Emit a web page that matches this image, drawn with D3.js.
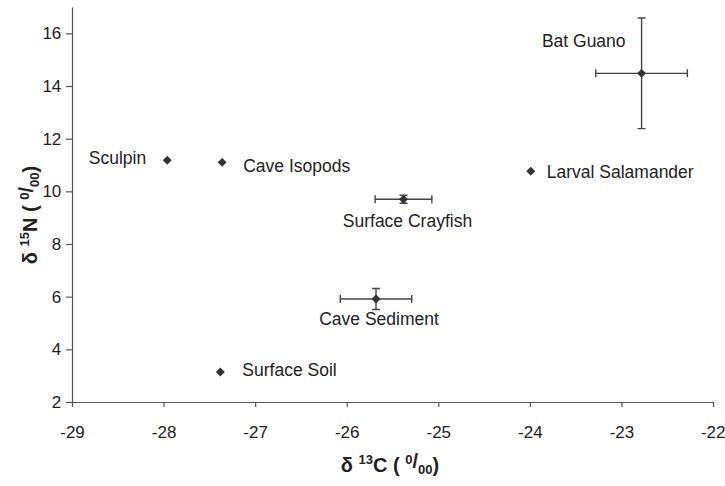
<!DOCTYPE html>
<html>
<head>
<meta charset="utf-8">
<script src="https://cdn.jsdelivr.net/npm/d3@7"></script>
<style>
  body { margin: 0; background: #fff; }
  svg text { font-family: "Liberation Sans", Arial, sans-serif; fill: #222; }
</style>
</head>
<body>
<div id="chart"></div>
<script>
  // sample names and isotope means / errors
  var names   = ['Bat Guano', 'Larval Salamander', 'Sculpin', 'Cave Isopods', 'Surface Crayfish', 'Cave Sediment', 'Surface Soil']
  var carbon  = [-22.78, -23.99, -27.96, -27.36, -25.38, -25.68, -27.38]
  var nitro   = [14.48, 10.76, 11.18, 11.10, 9.70, 5.91, 3.14]
  var carbonErr = [0.5, 0, 0, 0, 0.31, 0.39, 0]
  var nitroErr  = [2.1, 0, 0, 0, 0.15, 0.4, 0]
  var xTicks = [-29, -28, -27, -26, -25, -24, -23, -22]
  var yTicks = [2, 4, 6, 8, 10, 12, 14, 16]

  // where each label sits relative to its point
  var labelPos = [
    {dx: -16, dy: -32, anchor: 'end'},
    {dx: 16, dy: 1, anchor: 'start'},
    {dx: -21, dy: -2, anchor: 'end'},
    {dx: 21, dy: 4, anchor: 'start'},
    {dx: 4, dy: 22, anchor: 'middle'},
    {dx: 3, dy: 20, anchor: 'middle'},
    {dx: 22, dy: -2, anchor: 'start'}
  ]

  var width = 725, height = 486
  var margin = {top: 7, right: 12, bottom: 84, left: 72}

  var svg = d3.select('#chart').append('svg')
              .attr('width', width)
              .attr('height', height)

  var x = d3.scaleLinear().domain([-29, -22]).range([margin.left, width - margin.right])
  var y = d3.scaleLinear().domain([2, 17]).range([height - margin.bottom, margin.top])

  var fmt = function(d) { return String(d) }

  var xAxis = svg.append('g')
     .attr('transform', 'translate(0,' + y(2) + ')')
     .call(d3.axisBottom(x).tickValues(xTicks).tickSize(5).tickSizeOuter(0).tickFormat(fmt))
  var yAxis = svg.append('g')
     .attr('transform', 'translate(' + x(-29) + ',0)')
     .call(d3.axisLeft(y).tickValues(yTicks).tickSize(6).tickSizeOuter(0).tickFormat(fmt))

  svg.selectAll('.domain, .tick line').attr('stroke', '#555').attr('stroke-width', 1.2)
  xAxis.selectAll('text').attr('font-size', 17).attr('y', 24)
  xAxis.selectAll('.tick').filter(function(d) { return d === -22 })
       .select('text').attr('text-anchor', 'end').attr('x', 12)
  yAxis.selectAll('text').attr('font-size', 17).attr('dx', '-0.1em')
  svg.selectAll('.tick text').style('fill', '#222')

  var data = names.map(function(n, i) {
    return {name: n, cx: carbon[i], ny: nitro[i], ex: carbonErr[i], ey: nitroErr[i], lp: labelPos[i]}
  })

  var g = svg.append('g')
  var cap = 4

  var withErr = data.filter(function(d) { return d.ex > 0 || d.ey > 0 })

  // horizontal error bars
  g.selectAll('.hbar').data(withErr).enter().append('path')
   .attr('d', function(d) {
     var x0 = x(d.cx - d.ex), x1 = x(d.cx + d.ex), yy = y(d.ny)
     return 'M' + x0 + ',' + yy + 'H' + x1 +
            'M' + x0 + ',' + (yy - cap) + 'V' + (yy + cap) +
            'M' + x1 + ',' + (yy - cap) + 'V' + (yy + cap)
   })
   .attr('stroke', '#444').attr('stroke-width', 1.4).attr('fill', 'none')

  // vertical error bars
  g.selectAll('.vbar').data(withErr).enter().append('path')
   .attr('d', function(d) {
     var y0 = y(d.ny - d.ey), y1 = y(d.ny + d.ey), xx = x(d.cx)
     return 'M' + xx + ',' + y0 + 'V' + y1 +
            'M' + (xx - cap) + ',' + y0 + 'H' + (xx + cap) +
            'M' + (xx - cap) + ',' + y1 + 'H' + (xx + cap)
   })
   .attr('stroke', '#444').attr('stroke-width', 1.4).attr('fill', 'none')

  var diamond = d3.symbol().type(d3.symbolSquare).size(40)
  g.selectAll('.pt').data(data).enter().append('path')
   .attr('d', diamond)
   .attr('transform', function(d) { return 'translate(' + x(d.cx) + ',' + y(d.ny) + ') rotate(45)' })
   .attr('fill', '#333')

  g.selectAll('.lbl').data(data).enter().append('text')
   .attr('x', function(d) { return x(d.cx) + d.lp.dx })
   .attr('y', function(d) { return y(d.ny) + d.lp.dy })
   .attr('dy', '0.35em')
   .attr('text-anchor', function(d) { return d.lp.anchor })
   .attr('font-size', 17.5)
   .text(function(d) { return d.name })

  // axis titles with super/subscripts
  function isoTitle(sel, mass, elem) {
    sel.append('tspan').text('δ ')
    sel.append('tspan').attr('font-size', 13).attr('dy', -8).text(mass)
    sel.append('tspan').attr('dy', 8).text(elem + ' ( ')
    sel.append('tspan').attr('font-size', 13).attr('dy', -8).text('0')
    sel.append('tspan').attr('dy', 4).text('/')
    sel.append('tspan').attr('font-size', 13).attr('dy', 6).text('00')
    sel.append('tspan').attr('dy', -2).text(')')
  }

  var xt = svg.append('text')
     .attr('x', 390).attr('y', 472)
     .attr('text-anchor', 'middle')
     .attr('font-size', 20).attr('font-weight', 'bold')
  isoTitle(xt, '13', 'C')

  var yt = svg.append('text')
     .attr('transform', 'translate(37,215) rotate(-90)')
     .attr('text-anchor', 'middle')
     .attr('font-size', 20).attr('font-weight', 'bold')
  isoTitle(yt, '15', 'N')
</script>
</body>
</html>
